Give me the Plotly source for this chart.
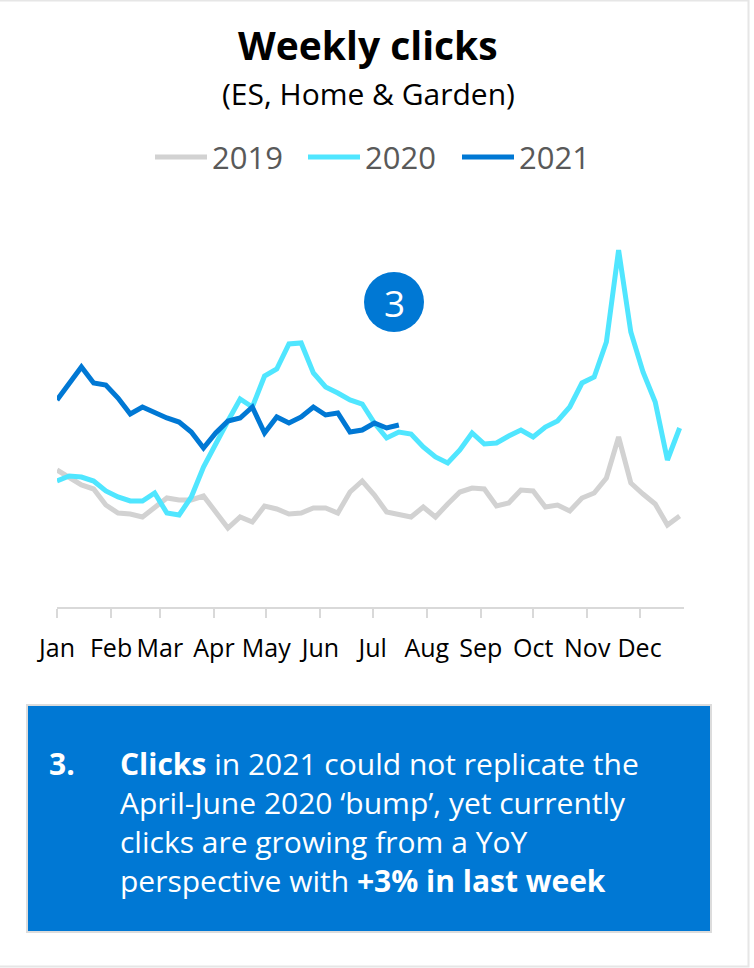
import pandas as pd
import plotly.graph_objects as go

# Weekly clicks by week of year (thousands)
weeks = pd.date_range("2021-01-01", periods=52, freq="7D")

clicks_2019 = [137, 130, 122, 118, 102, 94, 93, 90, 99, 109, 107, 107, 111,
               95, 79, 90, 85, 101, 98, 93, 94, 99, 99, 94, 115, 126, 112,
               95, 92, 90, 100, 90, 103, 115, 119, 118, 101, 104, 117, 116,
               100, 102, 96, 109, 114, 129, 170, 124, 113, 103, 82, 91]
clicks_2020 = [126, 131, 130, 126, 116, 110, 106, 106, 114, 94, 92, 110, 140,
               164, 186, 208, 200, 231, 238, 263, 264, 234, 220, 214, 207,
               203, 184, 169, 175, 173, 160, 150, 144, 157, 174, 163, 164,
               171, 177, 170, 180, 186, 200, 224, 230, 265, 357, 275, 235,
               205, 147, 179]
clicks_2021 = [207, 223, 240, 224, 222, 209, 193, 200, 194, 189, 185, 175, 159,
               174, 186, 189, 200, 174, 190, 184, 190, 200, 192, 194, 175,
               177, 184, 179, 182]

series_names = ["2019", "2020", "2021"]
series_values = [clicks_2019, clicks_2020, clicks_2021]
series_colors = ["#D2D2D2", "#50E6FF", "#0078D4"]

month_starts = pd.date_range("2021-01-01", periods=12, freq="MS")
month_labels = ["Jan", "Feb", "Mar", "Apr", "May", "Jun",
                "Jul", "Aug", "Sep", "Oct", "Nov", "Dec"]

note_lines = [
    "<b>Clicks</b> in 2021 could not replicate the",
    "April-June 2020 \u2018bump\u2019, yet currently",
    "clicks are growing from a YoY",
    "perspective with <b>+3% in last week</b>",
]

W, H = 754, 968
L, R, T, B = 57, 70, 207, 361
PLOT_W, PLOT_H = W - L - R, H - T - B
FONT = "Open Sans"


def px(x):
    return (x - L) / PLOT_W


def py(y):
    return (H - B - y) / PLOT_H


fig = go.Figure()
for name, vals, col in zip(series_names, series_values, series_colors):
    fig.add_trace(go.Scatter(
        x=weeks[:len(vals)], y=vals, name=name, mode="lines",
        line=dict(color=col, width=5), showlegend=False,
        hoverinfo="x+y+name",
    ))

shapes = []
annotations = []

# Page frame
shapes.append(dict(type="rect", xref="paper", yref="paper",
                   x0=px(-3), x1=px(748.5), y0=py(966.5), y1=py(0.5),
                   line=dict(color="#E6E6E6", width=2), layer="below"))

# Titles
annotations.append(dict(text="<b>Weekly clicks</b>", xref="paper", yref="paper",
                        x=px(368), y=py(44), xanchor="center", yanchor="middle",
                        showarrow=False,
                        font=dict(family=FONT, size=39, color="#000000")))
annotations.append(dict(text="(ES, Home &amp; Garden)", xref="paper", yref="paper",
                        x=px(368), y=py(93), xanchor="center", yanchor="middle",
                        showarrow=False,
                        font=dict(family=FONT, size=30, color="#000000")))

# Legend drawn as line swatches with labels
legend_x = [155, 308, 462]
for lx, name, col in zip(legend_x, series_names, series_colors):
    shapes.append(dict(type="line", xref="paper", yref="paper",
                       x0=px(lx), x1=px(lx + 52), y0=py(157), y1=py(157),
                       line=dict(color=col, width=5)))
    annotations.append(dict(text=name, xref="paper", yref="paper",
                            x=px(lx + 55), y=py(157), xanchor="left",
                            yanchor="middle", showarrow=False,
                            font=dict(family=FONT, size=31, color="#595959")))

# Numbered badge
shapes.append(dict(type="circle", xref="paper", yref="paper",
                   x0=px(364), x1=px(424), y0=py(332), y1=py(272),
                   fillcolor="#0078D4", line=dict(width=0)))
annotations.append(dict(text="3", xref="paper", yref="paper",
                        x=px(394), y=py(302), xanchor="center", yanchor="middle",
                        showarrow=False,
                        font=dict(family=FONT, size=37, color="#FFFFFF")))

# Note box
shapes.append(dict(type="rect", xref="paper", yref="paper",
                   x0=px(27), x1=px(711), y0=py(932), y1=py(705),
                   fillcolor="#0078D4", line=dict(color="#DCDCDC", width=2)))
annotations.append(dict(text="<b>3.</b>", xref="paper", yref="paper",
                        x=px(47), y=py(763), xanchor="left", yanchor="middle",
                        showarrow=False,
                        font=dict(family=FONT, size=30, color="#FFFFFF")))
annotations.append(dict(text="<br>".join(note_lines), xref="paper", yref="paper",
                        x=px(118), y=py(821.5), xanchor="left",
                        yanchor="middle", align="left", showarrow=False,
                        font=dict(family=FONT, size=30, color="#FFFFFF")))

fig.update_layout(
    width=W, height=H,
    margin=dict(l=L, r=R, t=T, b=B, pad=0),
    paper_bgcolor="#FFFFFF", plot_bgcolor="#FFFFFF",
    font=dict(family=FONT, color="#000000"),
    shapes=shapes, annotations=annotations,
    showlegend=False,
    xaxis=dict(
        type="date",
        range=["2021-01-01", "2021-12-26 12:00"],
        tickvals=month_starts, ticktext=month_labels,
        showgrid=False, zeroline=False,
        showline=True, linecolor="#D9D9D9", linewidth=2,
        ticks="outside", ticklen=9, tickcolor="#D9D9D9", tickwidth=1.5,
        ticklabelstandoff=9,
        tickfont=dict(family=FONT, size=25, color="#000000"),
    ),
    yaxis=dict(range=[0, PLOT_H], visible=False, showgrid=False, zeroline=False),
)

fig.write_html("out.html")
